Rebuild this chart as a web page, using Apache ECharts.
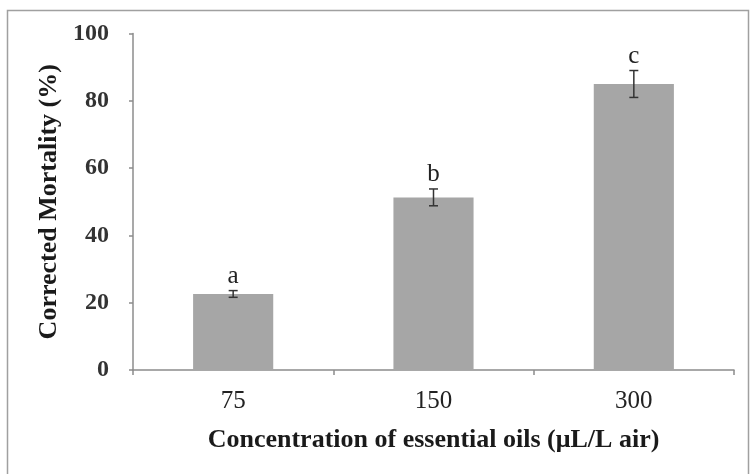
<!DOCTYPE html>
<html>
<head>
<meta charset="utf-8">
<script src="https://cdn.jsdelivr.net/npm/echarts@6/dist/echarts.min.js"></script>
<style>html,body{margin:0;padding:0;background:#fff}#c{width:751px;height:474px}</style>
</head>
<body>
<div id="c"></div>
<script>
const categories = ['75', '150', '300'];
const mortality = [22.6, 51.3, 85.0];
const errors = [1.0, 2.5, 4.0];
const letters = ['a', 'b', 'c'];
const yTicks = [0, 20, 40, 60, 80, 100];

const chart = echarts.init(document.getElementById('c'));
const serif = '"Liberation Serif", "DejaVu Serif", serif';
chart.setOption({
  backgroundColor: '#ffffff',
  animation: false,
  graphic: [{
    type: 'rect', shape: {x: 7.5, y: 10.5, width: 741, height: 480},
    style: {fill: 'none', stroke: '#a0a0a0', lineWidth: 1.5}, silent: true
  }],
  grid: {left: 133, right: 17, top: 33.5, bottom: 104},
  xAxis: {
    type: 'category', data: categories,
    name: 'Concentration of essential oils (μL/L air)',
    nameLocation: 'middle', nameGap: 57,
    nameTextStyle: {fontFamily: serif, fontWeight: 'bold', fontSize: 26, color: '#1a1a1a'},
    axisLine: {lineStyle: {color: '#8c8c8c', width: 1.5}},
    axisTick: {show: true, length: 5, lineStyle: {color: '#8c8c8c', width: 1.5}},
    axisLabel: {fontFamily: serif, fontSize: 25, color: '#222', margin: 19}
  },
  yAxis: {
    type: 'value', min: 0, max: 100, interval: 20,
    name: 'Corrected Mortality (%)',
    nameLocation: 'middle', nameGap: 67,
    nameTextStyle: {fontFamily: serif, fontWeight: 'bold', fontSize: 26, color: '#1a1a1a'},
    axisLine: {show: true, lineStyle: {color: '#8c8c8c', width: 1.5}},
    axisTick: {show: true, inside: false, length: 4, lineStyle: {color: '#8c8c8c', width: 1.5}},
    splitLine: {show: false},
    axisLabel: {fontFamily: serif, fontWeight: 'bold', fontSize: 24, color: '#333', margin: 24,
      formatter: v => yTicks.includes(v) ? String(v) : ''}
  },
  series: [{
    type: 'bar', data: mortality, barWidth: '40%',
    itemStyle: {color: '#a6a6a6'}
  }, {
    type: 'custom',
    data: mortality.map((v, i) => [i, v, errors[i], letters[i]]),
    renderItem: function (params, api) {
      const i = api.value(0), v = api.value(1), e = api.value(2);
      const top = api.coord([i, v + e]);
      const bot = api.coord([i, v - e]);
      const hw = 4.5;
      return {
        type: 'group',
        children: [
          {type: 'line', shape: {x1: top[0], y1: top[1], x2: bot[0], y2: bot[1]}, style: {stroke: '#333', lineWidth: 1.5}},
          {type: 'line', shape: {x1: top[0] - hw, y1: top[1], x2: top[0] + hw, y2: top[1]}, style: {stroke: '#333', lineWidth: 1.5}},
          {type: 'line', shape: {x1: bot[0] - hw, y1: bot[1], x2: bot[0] + hw, y2: bot[1]}, style: {stroke: '#333', lineWidth: 1.5}},
          {type: 'text', style: {x: top[0], y: top[1] - 2, text: letters[i], fill: '#222',
            font: '25px ' + serif, textAlign: 'center', textVerticalAlign: 'bottom'}}
        ]
      };
    },
    z: 5
  }]
});
</script>
</body>
</html>
